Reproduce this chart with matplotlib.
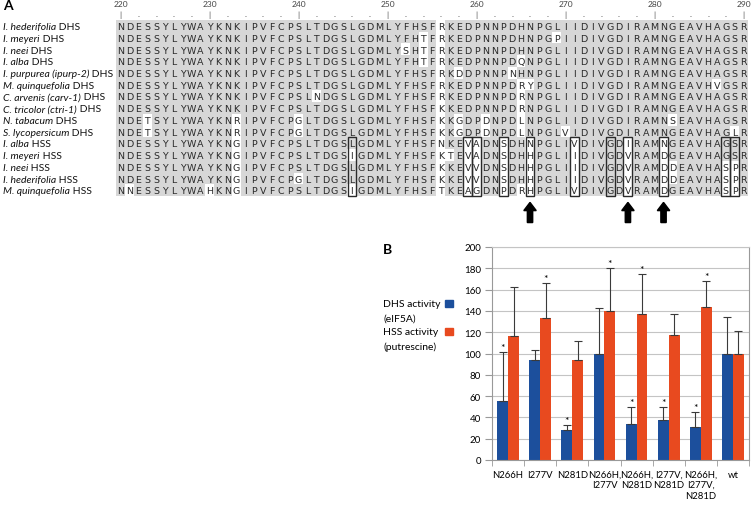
import numpy as np
import matplotlib
matplotlib.use('Agg')
import matplotlib.pyplot as plt
import matplotlib.transforms as mtransforms
from matplotlib.patches import Rectangle, FancyArrow

plt.rcParams['font.family'] = ['Lato', 'DejaVu Sans']

# ---- panel A: alignment (lowercase = residue not shaded) ----
species = ['I. hederifolia', 'I. meyeri', 'I. neei', 'I. alba', 'I. purpurea (ipurp-2)',
           'M. quinquefolia', 'C. arvenis (carv-1)', 'C. tricolor (ctri-1)', 'N. tabacum',
           'S. lycopersicum', 'I. alba', 'I. meyeri', 'I. neei', 'I. hederifolia', 'M. quinquefolia']
enzyme = ['DHS'] * 10 + ['HSS'] * 5
sequences = [
    'NDESSYLYWA' 'YKNKIPVFCP' 'SLTDGSLGDM' 'LYFHSFrKED' 'PNNPDHNPGL' 'IIDIVGDIRA' 'MNGEAVHAGSR',
    'NDESSYLYWA' 'YKNKIPVFCP' 'SLTDGSLGDM' 'LYFHtFrKED' 'PNNPDHNPGp' 'IIDIVGDIRA' 'MNGEAVHAGSR',
    'NDESSYLYWA' 'YKNKIPVFCP' 'SLTDGSLGDM' 'LYsHtFrKED' 'PNNPDHNPGL' 'IIDIVGDIRA' 'MNGEAVHAGSR',
    'NDESSYLYWA' 'YKNKIPVFCP' 'SLTDGSLGDM' 'LYFHtFrKED' 'PNNPDqNPGL' 'IIDIVGDIRA' 'MNGEAVHAGSR',
    'NDESSYLYWA' 'YKNKIPVFCP' 'SLTDGSLGDM' 'LYFHSFrKdD' 'PNNPnHNPGL' 'IIDIVGDIRA' 'MNGEAVHAGSR',
    'NDESSYLYWA' 'YKNKIPVFCP' 'SLTDGSLGDM' 'LYFHSFrKED' 'PNNPDryPGL' 'IIDIVGDIRA' 'MNGEAVHvGSR',
    'NDESSYLYWA' 'YKNKIPVFCP' 'SLnDGSLGDM' 'LYFHSFrKED' 'PNNPDrNPGL' 'IIDIVGDIRA' 'MNGEAVHAGSR',
    'NDESSYLYWA' 'YKNKIPVFCP' 'SLTDGSLGDM' 'LYFHSFkKED' 'PNNPDrNPGL' 'IIDIVGDIRA' 'MNGEAVHAGSR',
    'NDEtSYLYWA' 'YKNrIPVFCP' 'gLTDGSLGDM' 'LYFHSFkKgD' 'PdNPDlNPGL' 'IIDIVGDIRA' 'MNsEAVHAGSR',
    'NDEtSYLYWA' 'YKNrIPVFCP' 'gLTDGSLGDM' 'LYFHSFkKgD' 'PdNPDlNPGL' 'vIDIVGDIRA' 'MNGEAVHAGlR',
    'NDESSYLYWA' 'YKNgIPVFCP' 'SLTDGSLGDM' 'LYFHSFnKEv' 'aDNsDHnPGL' 'IvDIVGDiRA' 'MnGEAVHAGSR',
    'NDESSYLYWA' 'YKNgIPVFCP' 'SLTDGSiGDM' 'LYFHSFktEv' 'aDNsDHhPGL' 'IiDIVGDvRA' 'MdGEAVHAGSR',
    'NDESSYLYWA' 'YKNgIPVFCP' 'SLTDGSLGDM' 'LYFHSFkKEv' 'vDNsDHhPGL' 'IiDIVGDvRA' 'MddEAVHAspR',
    'NDESSYLYWA' 'YKNgIPVFCP' 'gLTDGSLGDM' 'LYFHSFkKEv' 'vDNsDHhPGL' 'IiDIVGDvRA' 'MddEAVHAspR',
    'NnESSYLYWA' 'hKNgIPVFCP' 'SLTDGSiGDM' 'LYFHSFtKEa' 'gDNpDrhPGL' 'IvDIVGDvRA' 'MdGEAVHAspR',
]
first_pos = 220
boxed_cols = [26, 39, 40, 43, 46, 51, 55, 57, 61, 68, 69]
arrow_cols = [46, 57, 61]

# ---- panel B: activities ----
mutants = ['N266H', 'I277V', 'N281D', 'N266H,\nI277V', 'N266H,\nN281D',
           'I277V,\nN281D', 'N266H,\nI277V,\nN281D', 'wt']
dhs = [55, 94, 28, 100, 34, 38, 31, 100]
dhs_err = [46, 9.5, 5, 43, 15.5, 11.5, 14, 34]
hss = [116, 133, 94, 140, 137, 117, 144, 100]
hss_err = [46, 33, 18, 40, 38, 20, 24, 21]
dhs_sig = [True, False, True, False, True, True, True, False]
hss_sig = [False, True, False, True, True, False, True, False]

blue = '#1c4f9c'
orange = '#e84a1f'

W, H = 751, 506
fig = plt.figure(figsize=(W / 100, H / 100), dpi=100)


def box(x0, y0, x1, y1):
    return [x0 / W, 1 - y1 / H, (x1 - x0) / W, (y1 - y0) / H]


ax = fig.add_axes(box(116.1, 20.8, 748.1, 196.6))
n_rows, n_cols = len(sequences), len(sequences[0])
shade = np.array([[0.84 if ch.isupper() else 1.0 for ch in s] for s in sequences])
ax.imshow(shade, cmap='gray', vmin=0, vmax=1, aspect='auto', interpolation='nearest',
          extent=(-0.5, n_cols - 0.5, n_rows - 0.5, -0.5))
ax.set_xlim(-0.5, n_cols - 0.5)
ax.set_ylim(n_rows - 0.5, -0.5)
ax.axis('off')

for r, s in enumerate(sequences):
    for c, ch in enumerate(s):
        ax.text(c, r, ch.upper(), ha='center', va='center_baseline', fontsize=6.8,
                family='DejaVu Sans', color='#2a2a2a')

trans = mtransforms.blended_transform_factory(fig.transFigure, ax.transData)
for r, (sp, enz) in enumerate(zip(species, enzyme)):
    t = ax.text(3 / W, r, sp, transform=trans, style='italic', ha='left',
                va='center_baseline', fontsize=7.5, color='#111')
    ax.annotate(' ' + enz, xy=(1, 0), xycoords=t, ha='left', va='bottom',
                fontsize=7.5, color='#111')

# ruler
for c in range(n_cols):
    if c % 10 == 0:
        ax.text(c, -1.9, str(first_pos + c), ha='center', va='center', fontsize=6, color='#444')
        ax.text(c, -1.0, '|', ha='center', va='center', fontsize=6, color='#555')
    elif c % 2 == 0:
        ax.text(c, -1.0, '.', ha='center', va='center', fontsize=6, color='#555')

for c in boxed_cols:
    ax.add_patch(Rectangle((c - 0.5, 9.5), 1, 5, fill=False, edgecolor='#2a2a2a',
                           lw=1.0, clip_on=False))

for c in arrow_cols:
    ax.add_patch(FancyArrow(c, 16.8, 0, -1.72, width=0.6, head_width=1.4, head_length=0.7,
                            length_includes_head=True, color='black', clip_on=False))

fig.text(3 / W, 1 - 6 / H, 'A', fontweight='bold', fontsize=10, va='center', ha='left')

# ---- panel B ----
axb = fig.add_axes(box(492, 248, 749, 461))
x = np.arange(len(mutants))
bw = 0.34
axb.bar(x - bw / 2, dhs, bw, color=blue, zorder=2)
axb.bar(x + bw / 2, hss, bw, color=orange, zorder=2)
zeros = np.zeros(len(x))
axb.errorbar(x - bw / 2, dhs, yerr=[zeros, dhs_err], fmt='none', ecolor='#3a3a3a',
             elinewidth=0.8, capsize=3, capthick=0.8, zorder=3)
axb.errorbar(x + bw / 2, hss, yerr=[zeros, hss_err], fmt='none', ecolor='#3a3a3a',
             elinewidth=0.8, capsize=3, capthick=0.8, zorder=3)
for i in range(len(x)):
    if dhs_sig[i]:
        axb.text(x[i] - bw / 2, dhs[i] + dhs_err[i], '*', ha='center', va='bottom', fontsize=7.5)
    if hss_sig[i]:
        axb.text(x[i] + bw / 2, hss[i] + hss_err[i], '*', ha='center', va='bottom', fontsize=7.5)

axb.set_xlim(-0.5, len(x) - 0.5)
axb.set_ylim(0, 200)
axb.set_yticks(range(0, 201, 20))
axb.yaxis.grid(True, color='#c4c4c4', lw=0.8)
axb.set_axisbelow(True)
axb.set_xticks(x)
axb.set_xticklabels(mutants, fontsize=6.8, linespacing=1.2, va='top')
axb.set_xticks(np.arange(-0.5, len(x)), minor=True)
axb.tick_params(axis='x', which='major', length=0, pad=7)
axb.tick_params(axis='x', which='minor', length=4, color='#999')
axb.tick_params(axis='y', length=5, color='#999', labelsize=7, pad=3)
for side in ['left', 'bottom', 'right']:
    axb.spines[side].set_color('#999')
    axb.spines[side].set_linewidth(0.8)
axb.spines['top'].set_color('#c4c4c4')
axb.spines['top'].set_linewidth(0.8)

# legend
fig.text(383 / W, 1 - 305 / H, 'DHS activity', fontsize=7.5, va='center', ha='left')
fig.text(383 / W, 1 - 319 / H, '(eIF5A)', fontsize=7.5, va='center', ha='left')
fig.text(383 / W, 1 - 333 / H, 'HSS activity', fontsize=7.5, va='center', ha='left')
fig.text(383 / W, 1 - 347 / H, '(putrescine)', fontsize=7.5, va='center', ha='left')
fig.patches.append(Rectangle((445 / W, 1 - 308 / H), 8 / W, 7 / H, color=blue,
                             transform=fig.transFigure, figure=fig))
fig.patches.append(Rectangle((445 / W, 1 - 336 / H), 8 / W, 7 / H, color=orange,
                             transform=fig.transFigure, figure=fig))

fig.text(383 / W, 1 - 250 / H, 'B', fontweight='bold', fontsize=10, va='center', ha='left')

fig.savefig('out.png', dpi=100)
